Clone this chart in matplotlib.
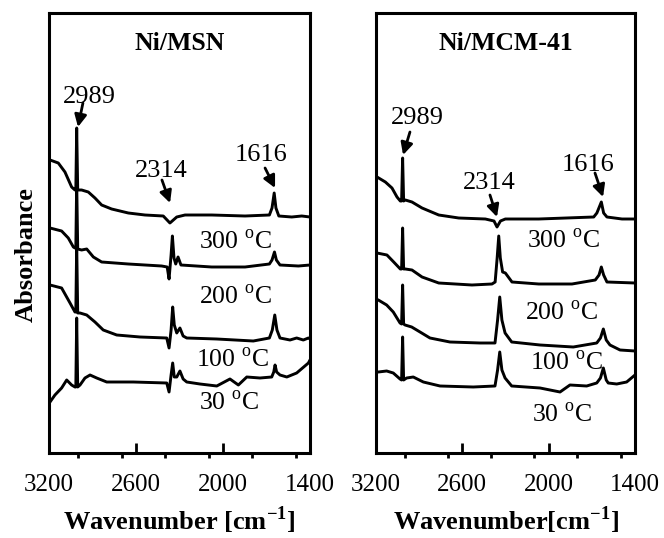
import matplotlib
matplotlib.use("Agg")
import numpy as np
from matplotlib import pyplot as plt
from matplotlib.ticker import MultipleLocator

plt.rcParams["font.family"] = ["Liberation Serif", "DejaVu Serif"]
plt.rcParams["mathtext.fontset"] = "custom"
plt.rcParams["mathtext.rm"] = "Liberation Serif"
plt.rcParams["mathtext.bf"] = "Liberation Serif:bold"

# Ni/MSN spektra (fra topp til bunn)
msn_wn_a = [3200, 3193, 3136, 3090, 3044, 3021, 3015, 3009, 3002, 2975, 2929, 2883, 2837, 2768, 2653,
            2538, 2412, 2366, 2319, 2262, 2078, 1848, 1680, 1662, 1647, 1635, 1615, 1526, 1457, 1400]
msn_abs_a = [2.93, 2.93, 2.90, 2.81, 2.66, 2.63, 2.63, 3.25, 2.63, 2.63, 2.61, 2.55, 2.48, 2.44, 2.40,
             2.38, 2.37, 2.30, 2.36, 2.38, 2.38, 2.37, 2.38, 2.45, 2.60, 2.45, 2.37, 2.36, 2.37, 2.36]

msn_wn_b = [3200, 3193, 3113, 3067, 3032, 3021, 3015, 3009, 3002, 2975, 2940, 2894, 2837, 2653, 2423,
            2385, 2372, 2358, 2349, 2338, 2326, 2310, 2290, 2078, 1848, 1680, 1662, 1645, 1632, 1607,
            1480, 1400]
msn_abs_b = [2.25, 2.25, 2.22, 2.15, 2.06, 2.05, 2.05, 2.71, 2.04, 2.03, 2.04, 1.96, 1.91, 1.89, 1.87,
             1.86, 1.74, 1.98, 2.17, 1.95, 1.89, 1.96, 1.88, 1.86, 1.86, 1.89, 1.93, 2.01, 1.93, 1.88,
             1.87, 1.88]

msn_wn_c = [3200, 3193, 3113, 3055, 3021, 3015, 3009, 3002, 2986, 2940, 2883, 2826, 2733, 2572, 2388,
            2372, 2358, 2347, 2336, 2319, 2297, 2275, 2250, 2043, 1791, 1680, 1660, 1643, 1628, 1607,
            1538, 1492, 1446, 1411, 1400]
msn_abs_c = [1.68, 1.68, 1.65, 1.50, 1.41, 1.41, 2.09, 1.40, 1.40, 1.38, 1.31, 1.23, 1.18, 1.16, 1.15,
             1.05, 1.23, 1.46, 1.28, 1.20, 1.25, 1.17, 1.15, 1.14, 1.12, 1.15, 1.23, 1.38, 1.23, 1.15,
             1.13, 1.15, 1.13, 1.15, 1.14]

msn_wn_d = [3200, 3193, 3159, 3113, 3078, 3044, 3021, 3015, 3009, 3002, 2986, 2952, 2917, 2871, 2802,
            2619, 2388, 2372, 2358, 2347, 2336, 2319, 2297, 2275, 2250, 2159, 2043, 1952, 1894, 1836,
            1745, 1664, 1650, 1641, 1630, 1607, 1560, 1492, 1411, 1400]
msn_abs_d = [0.50, 0.51, 0.58, 0.65, 0.73, 0.68, 0.66, 0.66, 1.35, 0.66, 0.68, 0.75, 0.78, 0.75, 0.71,
             0.71, 0.70, 0.61, 0.78, 0.90, 0.76, 0.76, 0.82, 0.74, 0.71, 0.69, 0.67, 0.74, 0.68, 0.76,
             0.75, 0.76, 0.81, 0.88, 0.81, 0.78, 0.76, 0.80, 0.90, 0.93]

# Ni/MCM-41 spektra (fra topp til bunn)
mcm_wn_a = [3200, 3193, 3135, 3089, 3054, 3031, 3022, 3015, 3008, 2996, 2950, 2880, 2764, 2625, 2440,
            2380, 2359, 2335, 2301, 2069, 1687, 1665, 1634, 1618, 1595, 1490, 1400]
mcm_abs_a = [2.77, 2.76, 2.71, 2.65, 2.56, 2.52, 2.52, 2.95, 2.52, 2.53, 2.51, 2.45, 2.38, 2.35, 2.34,
             2.32, 2.26, 2.32, 2.34, 2.34, 2.36, 2.40, 2.51, 2.40, 2.36, 2.34, 2.34]

mcm_wn_b = [3200, 3193, 3124, 3077, 3031, 3022, 3015, 3008, 2996, 2950, 2880, 2764, 2533, 2394, 2372,
            2358, 2347, 2336, 2320, 2301, 2255, 2069, 1838, 1676, 1650, 1634, 1618, 1595, 1400]
mcm_abs_b = [2.00, 2.00, 1.98, 1.91, 1.84, 1.84, 2.25, 1.84, 1.84, 1.83, 1.76, 1.70, 1.68, 1.69, 1.71,
             1.95, 2.17, 1.95, 1.81, 1.80, 1.71, 1.69, 1.69, 1.73, 1.78, 1.86, 1.78, 1.71, 1.70]

mcm_wn_c = [3200, 3184, 3126, 3080, 3033, 3022, 3015, 3008, 2998, 2952, 2894, 2825, 2686, 2477, 2373,
            2355, 2340, 2325, 2303, 2257, 2060, 1829, 1666, 1640, 1620, 1600, 1574, 1504, 1400]
mcm_abs_c = [1.54, 1.53, 1.48, 1.41, 1.30, 1.29, 1.68, 1.29, 1.28, 1.26, 1.21, 1.15, 1.11, 1.10, 1.10,
             1.33, 1.56, 1.33, 1.20, 1.11, 1.08, 1.06, 1.10, 1.15, 1.24, 1.13, 1.08, 1.03, 1.02]

mcm_wn_d = [3200, 3184, 3126, 3080, 3033, 3022, 3015, 3008, 2987, 2941, 2871, 2755, 2524, 2373, 2355,
            2340, 2325, 2303, 2257, 2060, 1921, 1852, 1736, 1666, 1640, 1620, 1600, 1586, 1527, 1458, 1400]
mcm_abs_d = [0.81, 0.81, 0.82, 0.80, 0.74, 0.73, 1.16, 0.73, 0.75, 0.76, 0.71, 0.67, 0.66, 0.67, 0.83,
             1.01, 0.83, 0.75, 0.67, 0.65, 0.61, 0.68, 0.67, 0.70, 0.75, 0.85, 0.73, 0.70, 0.69, 0.71, 0.78]

# Temperaturetikettar og toppetikettar
temps = ["300", "200", "100", "30"]
msn_temp_x = [1917, 1917, 1938, 1959]
msn_temp_y = [2.11, 1.56, 0.93, 0.50]
mcm_temp_x = [1900, 1914, 1880, 1907]
mcm_temp_y = [2.12, 1.40, 0.90, 0.38]

peaks = ["2989", "2314", "1616"]
msn_peak_txt = [(2924, 3.56), (2428, 2.82), (1738, 2.98)]
msn_arrow_from = [(2966, 3.50), (2421, 2.73), (1710, 2.85)]
msn_arrow_to = [(3000, 3.26), (2365, 2.50), (1641, 2.65)]
mcm_peak_txt = [(2915, 3.35), (2415, 2.70), (1727, 2.88)]
mcm_arrow_from = [(2964, 3.21), (2408, 2.58), (1678, 2.80)]
mcm_arrow_to = [(3012, 2.98), (2359, 2.36), (1622, 2.56)]

fig = plt.figure(figsize=(6.64, 5.38), dpi=100)
ax1 = fig.add_axes([49 / 664, 85 / 538, 261 / 664, 440 / 538])
ax2 = fig.add_axes([376 / 664, 85 / 538, 259 / 664, 440 / 538])


def draw_panel(ax, traces, title, xlabel, temp_x, temp_y, txt_pos, arr_from, arr_to):
    for wn, ab in traces:
        ax.plot(wn, ab, color="black", lw=2.1)

    ax.set_xlim(3200, 1400)
    ax.set_ylim(0, 4.4)
    ax.set_yticks([])
    ax.set_xticks([3200, 2600, 2000, 1400])
    ax.xaxis.set_minor_locator(MultipleLocator(300))
    ax.xaxis.remove_overlapping_locs = False
    ax.tick_params(axis="x", which="major", direction="in", length=7, width=2, labelsize=18, pad=15)
    ax.tick_params(axis="x", which="minor", direction="out", length=3.5, width=2)
    for sp in ax.spines.values():
        sp.set_linewidth(2.2)

    ax.set_xlabel(xlabel, fontsize=19, fontweight="bold", labelpad=6)
    ax.text(0.5, 0.93, title, transform=ax.transAxes, ha="center", va="center",
            fontsize=18.5, fontweight="bold")

    for t, x, y in zip(temps, temp_x, temp_y):
        ax.text(x, y, t + r" $^{\mathrm{o}}$C", ha="center", va="center", fontsize=18.5)

    for p, pos, a, b in zip(peaks, txt_pos, arr_from, arr_to):
        ax.text(pos[0], pos[1], p, ha="center", va="center", fontsize=19)
        ax.annotate("", xy=b, xytext=a,
                    arrowprops=dict(arrowstyle="-|>", color="black", lw=2, mutation_scale=18,
                                    shrinkA=0, shrinkB=0))


draw_panel(ax1,
           [(msn_wn_a, msn_abs_a), (msn_wn_b, msn_abs_b), (msn_wn_c, msn_abs_c), (msn_wn_d, msn_abs_d)],
           "Ni/MSN", r"Wavenumber [cm$^{\mathbf{-1}}$]",
           msn_temp_x, msn_temp_y, msn_peak_txt, msn_arrow_from, msn_arrow_to)
draw_panel(ax2,
           [(mcm_wn_a, mcm_abs_a), (mcm_wn_b, mcm_abs_b), (mcm_wn_c, mcm_abs_c), (mcm_wn_d, mcm_abs_d)],
           "Ni/MCM-41", r"Wavenumber[cm$^{\mathbf{-1}}$]",
           mcm_temp_x, mcm_temp_y, mcm_peak_txt, mcm_arrow_from, mcm_arrow_to)

ax1.set_ylabel("Absorbance", fontsize=19, fontweight="bold")
ax1.yaxis.set_label_coords(-0.042, 0.452)

fig.savefig("out.png", dpi=100)
